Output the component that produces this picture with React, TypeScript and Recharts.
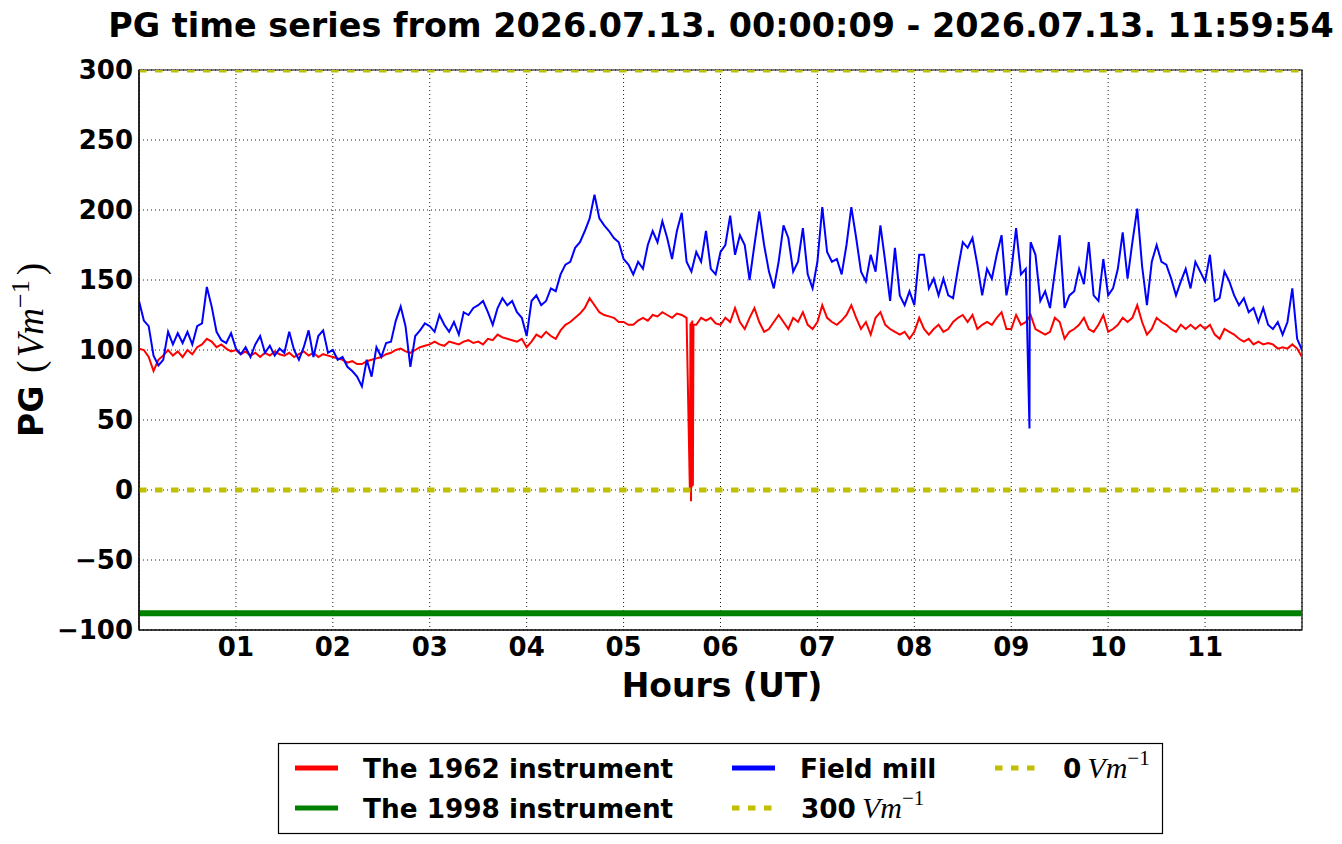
import React from 'react';
import { LineChart, Line, XAxis, YAxis, CartesianGrid, ReferenceArea } from 'recharts';

// sampling grid, one reading every 3 minutes
const HOURS = Array.from({ length: 241 }, (_, i) => i / 20);

const FIELD_MILL = [
  135, 121, 117, 96, 89, 93, 113, 104, 112, 105, 113, 104, 117, 119, 145, 131, 113, 107, 105, 112,
  101, 97, 102, 95, 104, 110, 98, 103, 96, 101, 98, 113, 100, 93, 102, 114, 95, 110, 114, 98,
  100, 93, 95, 88, 85, 81, 74, 93, 81, 102, 95, 105, 106, 121, 131, 117, 88, 110, 114, 119,
  117, 113, 125, 118, 113, 120, 111, 127, 125, 130, 132, 135, 127, 118, 130, 137, 132, 135, 127, 123,
  110, 135, 139, 132, 135, 144, 142, 154, 161, 163, 173, 177, 185, 194, 211, 194, 189, 185, 180, 177,
  165, 161, 154, 163, 158, 175, 185, 177, 192, 180, 165, 185, 198, 163, 156, 170, 163, 185, 158, 154,
  170, 175, 196, 168, 182, 175, 150, 175, 199, 175, 156, 144, 163, 189, 180, 156, 163, 187, 154, 144,
  163, 202, 170, 163, 165, 154, 175, 202, 180, 156, 149, 168, 156, 189, 163, 135, 173, 139, 132, 142,
  132, 168, 168, 144, 151, 139, 151, 139, 137, 158, 177, 173, 180, 161, 139, 158, 151, 168, 182, 139,
  156, 187, 154, 158, 177, 168, 135, 142, 130, 156, 182, 130, 139, 142, 158, 147, 177, 139, 135, 165,
  139, 144, 158, 184, 151, 177, 201, 160, 132, 163, 175, 163, 161, 151, 139, 149, 158, 144, 163, 156,
  149, 168, 135, 137, 156, 149, 139, 132, 137, 127, 130, 120, 130, 118, 115, 120, 111, 120, 144, 108,
  100,
];

const INSTRUMENT_1962 = [
  101, 100, 95, 85, 93, 96, 100, 96, 99, 95, 100, 97, 102, 104, 108, 106, 102, 104, 101, 99,
  100, 97, 99, 96, 98, 95, 98, 96, 99, 97, 96, 98, 95, 97, 99, 96, 98, 95, 97, 96,
  95, 94, 93, 91, 92, 90, 90, 92, 93, 94, 95, 97, 98, 100, 101, 99, 98, 100, 102, 103,
  104, 106, 104, 103, 106, 105, 104, 106, 107, 105, 106, 104, 108, 107, 111, 109, 108, 107, 106, 108,
  102, 106, 111, 109, 113, 110, 108, 114, 118, 120, 123, 126, 130, 137, 132, 127, 125, 124, 123, 120,
  120, 118, 118, 121, 123, 121, 125, 124, 127, 125, 123, 126, 125, 123, 120, 118, 123, 121, 123, 119,
  118, 123, 120, 130, 120, 115, 123, 130, 120, 113, 115, 120, 125, 120, 115, 123, 120, 127, 118, 115,
  120, 132, 123, 120, 118, 121, 125, 132, 123, 115, 120, 111, 123, 127, 118, 115, 113, 111, 113, 108,
  113, 123, 115, 111, 115, 118, 113, 115, 120, 123, 125, 120, 125, 115, 118, 120, 118, 123, 127, 115,
  115, 125, 118, 120, 125, 115, 113, 111, 113, 123, 120, 108, 113, 115, 118, 123, 115, 113, 118, 125,
  113, 115, 118, 123, 120, 123, 132, 120, 111, 115, 123, 120, 118, 115, 113, 118, 115, 118, 115, 118,
  115, 118, 111, 108, 115, 113, 111, 108, 106, 108, 104, 106, 104, 105, 104, 101, 102, 101, 104, 101,
  95,
];

// short drop-outs
const SPIKE_1962_HOURS = [5.684, 5.69, 5.696, 5.703, 5.709, 5.715, 5.721];
const SPIKE_1962 = [0, 119, -8, 2, 121, 3, 118];
const SPIKE_MILL_HOURS = [9.188, 9.192];
const SPIKE_MILL = [44, 160];

const LEVEL_HOURS = [0, 12];
const INSTRUMENT_1998 = [-88, -88];
const LEVEL_300 = [300, 300];
const LEVEL_0 = [0, 0];

const X_TICKS = [1, 2, 3, 4, 5, 6, 7, 8, 9, 10, 11];
const Y_TICKS = [-100, -50, 0, 50, 100, 150, 200, 250, 300];

const RED = '#ff0000';
const GREEN = '#008000';
const BLUE = '#0000ff';
const YELLOW = '#bfbf00';
const FONT = 'DejaVu Sans';
const MATH = 'Liberation Serif';

const toPoints = (hours, values) => hours.map((t, i) => ({ t, v: values[i] }));
const merge = (a, b) => [...a, ...b].sort((p, q) => p.t - q.t);

const redData = merge(toPoints(HOURS, INSTRUMENT_1962), toPoints(SPIKE_1962_HOURS, SPIKE_1962));
const blueData = merge(toPoints(HOURS, FIELD_MILL), toPoints(SPIKE_MILL_HOURS, SPIKE_MILL));
const greenData = toPoints(LEVEL_HOURS, INSTRUMENT_1998);
const data300 = toPoints(LEVEL_HOURS, LEVEL_300);
const data0 = toPoints(LEVEL_HOURS, LEVEL_0);

const tickStyle = { fill: '#000', fontSize: 26, fontWeight: 700, fontFamily: FONT };
const fmtY = (v) => (v < 0 ? `\u2212${-v}` : `${v}`);
const fmtX = (v) => (v < 10 ? `0${v}` : `${v}`);

const Unit = ({ size = 30 }) => (
  <>
    <tspan fontFamily={MATH} fontStyle="italic" fontWeight={400} fontSize={size} dx={6}>Vm</tspan>
    <tspan fontFamily={MATH} fontWeight={400} fontSize={size * 0.7} dy={-13}>{'\u22121'}</tspan>
  </>
);

const Handle = ({ x, y, color, dashed = false }) => (
  <line
    x1={x}
    x2={x + 43}
    y1={y}
    y2={y}
    stroke={color}
    strokeWidth={5}
    strokeDasharray={dashed ? '7.5 8.5' : undefined}
  />
);

const App = () => {
  return (
    <div style={{ position: 'absolute', left: 0, top: 0, width: 1342, height: 844, background: '#fff' }}>
      <LineChart width={1342} height={844} margin={{ top: 70, right: 40, bottom: 174, left: 39 }}>
        <CartesianGrid stroke="#000" strokeDasharray="1 3" strokeWidth={0.9} />
        <XAxis
          type="number"
          dataKey="t"
          domain={[0, 12]}
          ticks={X_TICKS}
          tickFormatter={fmtX}
          height={40}
          tick={tickStyle}
          tickLine={false}
          tickMargin={2}
          axisLine={{ stroke: '#000', strokeWidth: 1.2 }}
          allowDataOverflow
        />
        <YAxis
          type="number"
          domain={[-100, 300]}
          ticks={Y_TICKS}
          tickFormatter={fmtY}
          width={100}
          tick={tickStyle}
          tickLine={false}
          tickMargin={0}
          axisLine={{ stroke: '#000', strokeWidth: 1.2 }}
          allowDataOverflow
        />
        <ReferenceArea x1={0} x2={12} y1={-100} y2={300} fill="none" stroke="#000" strokeWidth={1.2} />
        <Line data={redData} dataKey="v" stroke={RED} strokeWidth={2} dot={false} isAnimationActive={false} />
        <Line data={greenData} dataKey="v" stroke={GREEN} strokeWidth={6} dot={false} isAnimationActive={false} />
        <Line data={blueData} dataKey="v" stroke={BLUE} strokeWidth={2} dot={false} isAnimationActive={false} />
        <Line
          data={data300}
          dataKey="v"
          stroke={YELLOW}
          strokeWidth={5}
          strokeDasharray="7.5 8.5"
          dot={false}
          isAnimationActive={false}
        />
        <Line
          data={data0}
          dataKey="v"
          stroke={YELLOW}
          strokeWidth={5}
          strokeDasharray="7.5 8.5"
          dot={false}
          isAnimationActive={false}
        />
      </LineChart>

      <svg
        width={1342}
        height={844}
        style={{ position: 'absolute', left: 0, top: 0, pointerEvents: 'none' }}
        fontFamily={FONT}
        fontWeight={700}
      >
        <text x={721} y={37} textAnchor="middle" fontSize={33.4}>
          PG time series from 2026.07.13. 00:00:09 - 2026.07.13. 11:59:54
        </text>
        <text x={722} y={697} textAnchor="middle" fontSize={33}>
          Hours (UT)
        </text>
        <text transform="translate(43,350) rotate(-90)" textAnchor="middle" fontSize={33}>
          PG
          <tspan fontFamily={MATH} fontWeight={400} fontSize={37} dx={13}>(</tspan>
          <tspan fontFamily={MATH} fontStyle="italic" fontWeight={400} fontSize={37} dx={3}>Vm</tspan>
          <tspan fontFamily={MATH} fontWeight={400} fontSize={26} dy={-14}>{'\u22121'}</tspan>
          <tspan fontFamily={MATH} fontWeight={400} fontSize={37} dy={14} dx={5}>)</tspan>
        </text>

        <rect x={278.5} y={743.5} width={884} height={90} fill="#fff" stroke="#000" strokeWidth={1.2} />
        <Handle x={295} y={768} color={RED} />
        <text x={363} y={778} fontSize={26.3}>The 1962 instrument</text>
        <Handle x={295} y={808} color={GREEN} />
        <text x={363} y={818} fontSize={26.3}>The 1998 instrument</text>
        <Handle x={732} y={768} color={BLUE} />
        <text x={800} y={778} fontSize={26.3}>Field mill</text>
        <Handle x={732} y={808} color={YELLOW} dashed />
        <text x={801} y={818} fontSize={26.3}>
          300<Unit />
        </text>
        <Handle x={995} y={768} color={YELLOW} dashed />
        <text x={1063} y={778} fontSize={26.3}>
          0<Unit />
        </text>
      </svg>
    </div>
  );
};

export default App;
